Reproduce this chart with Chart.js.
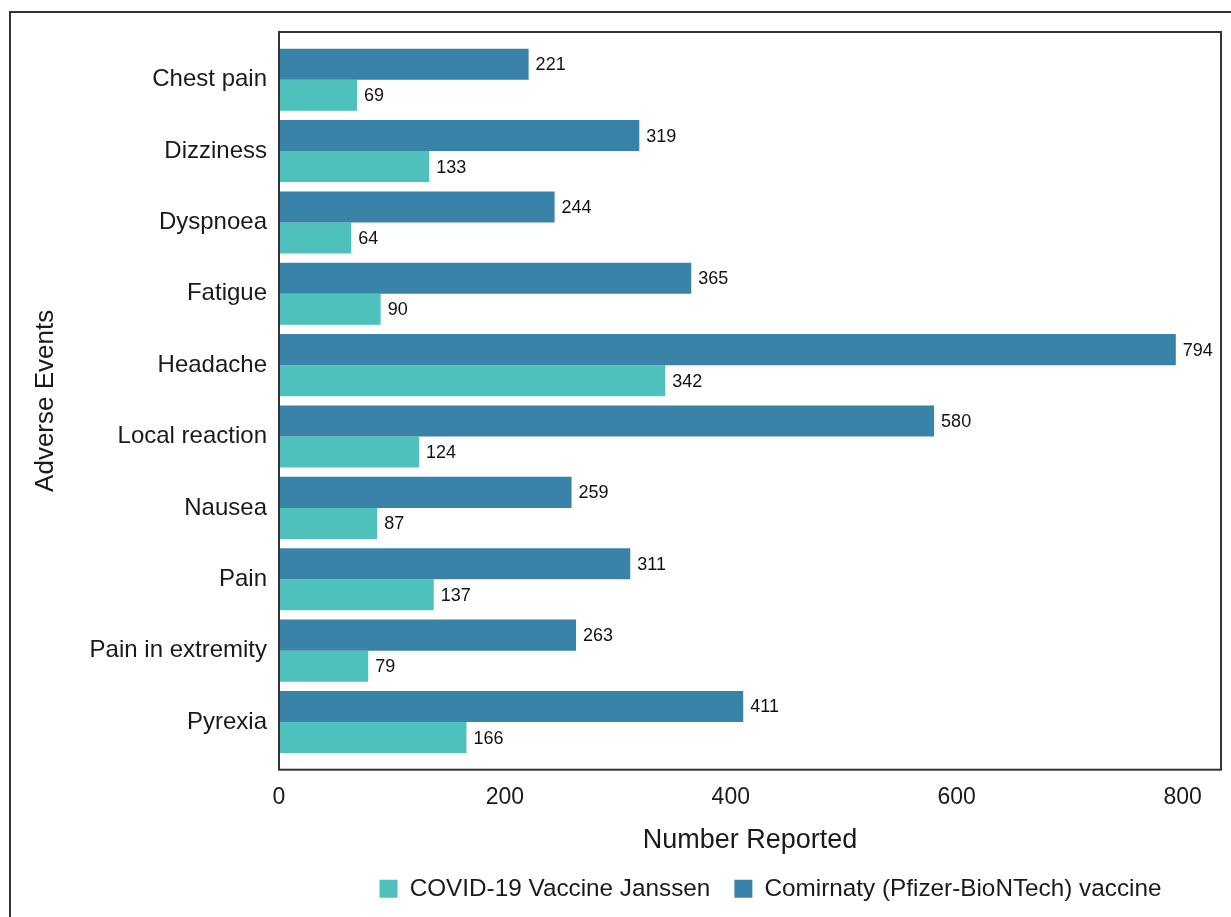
<!DOCTYPE html>
<html>
<head>
<meta charset="utf-8">
<script src="https://cdn.jsdelivr.net/npm/chart.js@4"></script>
<style>
  body { margin: 0; background: #fff; }
  #frame { position: absolute; left: 9px; top: 11px; width: 1240px; height: 920px; border: 2px solid #333; box-sizing: border-box; }
  #wrap { position: absolute; left: 0; top: 0; width: 1231px; height: 917px; }
</style>
</head>
<body>
<div id="frame"></div>
<div id="wrap"><canvas id="myChart" width="1231" height="917"></canvas></div>
<script>
const events = ["Chest pain", "Dizziness", "Dyspnoea", "Fatigue", "Headache",
  "Local reaction", "Nausea", "Pain", "Pain in extremity", "Pyrexia"];
const comirnaty = [221, 319, 244, 365, 794, 580, 259, 311, 263, 411];
const janssen = [69, 133, 64, 90, 342, 124, 87, 137, 79, 166];
const xTicks = [0, 200, 400, 600, 800];

Chart.defaults.font.family = "'Liberation Sans', Arial, sans-serif";
Chart.defaults.color = "#1a1a1a";

// box round the plot, a bit taller than the bars
const plotBox = {
  id: "plotBox",
  afterDatasetsDraw(chart) {
    const a = chart.chartArea;
    const c = chart.ctx;
    c.save();
    c.strokeStyle = "#333";
    c.lineWidth = 2;
    c.strokeRect(a.left, a.top - 12, a.right - a.left, a.bottom - a.top + 24);
    c.restore();
  },
};

// numbers at the end of each bar
const barValues = {
  id: "barValues",
  afterDatasetsDraw(chart) {
    const c = chart.ctx;
    c.save();
    c.font = "18px 'Liberation Sans', Arial, sans-serif";
    c.fillStyle = "#111";
    c.textBaseline = "middle";
    chart.data.datasets.forEach(function (ds, i) {
      chart.getDatasetMeta(i).data.forEach(function (bar, j) {
        c.fillText(ds.data[j], bar.x + 7, bar.y + 1);
      });
    });
    c.restore();
  },
};

// legend sits right of centre in the original
const legendShift = {
  id: "legendShift",
  afterLayout(chart) {
    const dx = 155;
    chart.legend.left += dx;
    chart.legend.right += dx;
  },
};

const ctx = document.getElementById("myChart");

var chart = new Chart(ctx, {
  type: "bar",
  data: {
    labels: events,
    datasets: [
      {
        label: "Comirnaty (Pfizer-BioNTech) vaccine",
        data: comirnaty,
        backgroundColor: "#3a83a8",
        borderWidth: 0,
      },
      {
        label: "COVID-19 Vaccine Janssen",
        data: janssen,
        backgroundColor: "#4fc1bc",
        borderWidth: 0,
      },
    ],
  },
  options: {
    indexAxis: "y",
    responsive: false,
    animation: false,
    datasets: {
      bar: { categoryPercentage: 0.87, barPercentage: 1 },
    },
    layout: { padding: { left: 10, right: 10, top: 44, bottom: 6 } },
    scales: {
      x: {
        min: 0,
        max: 834,
        grid: { display: false, drawTicks: false },
        border: { display: false },
        afterBuildTicks: function (scale) {
          scale.ticks = xTicks.map(function (v) { return { value: v }; });
        },
        afterFit: function (scale) {
          scale.height = scale.height - 31;
        },
        ticks: { font: { size: 23 }, padding: 26 },
        title: {
          display: true,
          text: "Number Reported",
          font: { size: 27 },
          padding: { top: 18, bottom: -4 },
        },
      },
      y: {
        grid: { display: false, drawTicks: false },
        border: { display: false },
        ticks: { font: { size: 24 }, padding: 12 },
        title: {
          display: true,
          text: "Adverse Events",
          font: { size: 26 },
          padding: { top: 20, bottom: 0 },
        },
        afterFit: function (scale) {
          scale.width = 269;
        },
      },
    },
    plugins: {
      legend: {
        position: "bottom",
        reverse: true,
        labels: {
          boxWidth: 18,
          boxHeight: 18,
          padding: 24,
          font: { size: 24.3 },
          color: "#1a1a1a",
        },
      },
      tooltip: { enabled: false },
    },
  },
  plugins: [plotBox, barValues, legendShift],
});
</script>
</body>
</html>
